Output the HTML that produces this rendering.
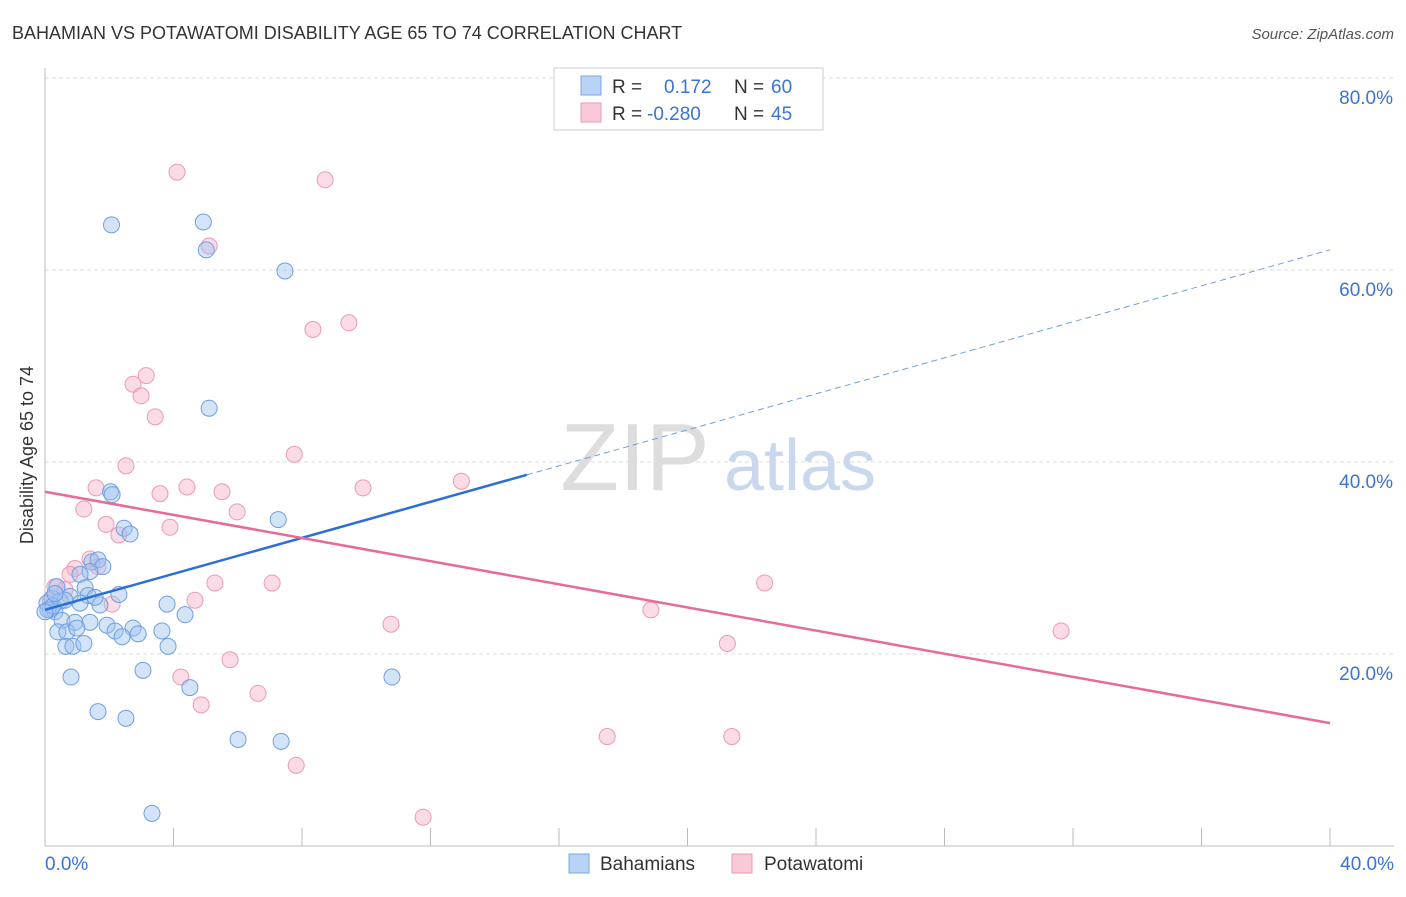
<!DOCTYPE html>
<html><head><meta charset="utf-8"><style>
body{margin:0;background:#fff;font-family:"Liberation Sans",sans-serif}
text{font-family:"Liberation Sans",sans-serif}
</style></head><body>
<svg id="chart" width="1406" height="892" xmlns="http://www.w3.org/2000/svg">
<text x="12" y="39" font-size="18" fill="#333">BAHAMIAN VS POTAWATOMI DISABILITY AGE 65 TO 74 CORRELATION CHART</text>
<text x="1394" y="39" font-size="15" fill="#555" font-style="italic" text-anchor="end">Source: ZipAtlas.com</text>
<text x="635" y="490" font-size="96" fill="#ddd" font-family="Liberation Serif" text-anchor="middle">ZIP</text>
<text x="800" y="490" font-size="72" fill="#c9d8ef" text-anchor="middle">atlas</text>
<text transform="translate(33,455) rotate(-90)" font-size="18" fill="#333" text-anchor="middle">Disability Age 65 to 74</text>
<g id="grid"></g><g id="pts"></g><g id="lines"></g>
<g>
<rect x="554" y="68" width="269" height="62" fill="#fff" stroke="#ccc"/>
<rect x="581" y="76" width="20" height="19" fill="#b9d3f5" stroke="#7aa6e3"/>
<rect x="581" y="103" width="20" height="19" fill="#f9c9d8" stroke="#ee99b4"/>
<text x="612" y="93" font-size="19" fill="#333">R = </text><text x="664" y="93" font-size="19" fill="#3a74d6">0.172</text>
<text x="734" y="93" font-size="19" fill="#333">N = </text><text x="771" y="93" font-size="19" fill="#3a74d6">60</text>
<text x="612" y="120" font-size="19" fill="#333">R = </text><text x="647" y="120" font-size="19" fill="#3a74d6">-0.280</text>
<text x="734" y="120" font-size="19" fill="#333">N = </text><text x="771" y="120" font-size="19" fill="#3a74d6">45</text>
</g>
<g>
<rect x="569" y="854" width="20" height="19" fill="#b9d3f5" stroke="#7aa6e3"/>
<text x="600" y="870" font-size="19" fill="#333">Bahamians</text>
<rect x="732" y="854" width="20" height="19" fill="#f9c9d8" stroke="#ee99b4"/>
<text x="764" y="870" font-size="19" fill="#333">Potawatomi</text>
</g>
<text x="45" y="870" font-size="19" fill="#3a74d6">0.0%</text>
<text x="1394" y="870" font-size="19" fill="#3a74d6" text-anchor="end">40.0%</text>
</svg>
<script>
const yTicks=[20,40,60,80];
const xTicks=[0,4,8,12,16,20,24,28,32,36,40];
const blueX=[2.07,4.93,5.02,7.47,5.11,2.04,2.09,2.46,2.65,7.26,1.46,1.65,1.80,1.40,1.09,0.37,1.25,2.30,1.34,0.78,0.22,0.06,0.47,1.09,1.71,3.80,4.36,0.16,0.31,0.53,0.93,1.40,1.93,2.74,3.64,0.40,0.68,2.18,2.40,2.90,0.65,0.87,1.21,3.83,0.81,3.05,4.51,1.65,2.52,6.01,7.35,10.80,3.33,0.09,0.25,0,0.62,0.99,1.56,0.31];
const blueY=[64.7,65.0,62.1,59.9,45.6,36.9,36.6,33.1,32.5,34.0,29.6,29.8,29.1,28.6,28.3,27.0,26.9,26.2,26.1,26.0,25.8,25.3,25.5,25.3,25.1,25.2,24.1,24.6,24.4,23.5,23.3,23.3,23.0,22.7,22.4,22.3,22.3,22.4,21.8,22.1,20.8,20.8,21.1,20.8,17.6,18.3,16.5,14.0,13.3,11.1,10.9,17.6,3.4,24.6,25.0,24.4,25.6,22.7,25.9,26.3];
const pinkX=[4.11,8.72,5.11,8.34,9.46,3.15,2.74,2.99,3.43,2.52,7.76,1.59,4.42,3.58,5.51,9.90,12.96,1.21,5.98,1.90,2.30,3.89,1.40,0.93,0.78,1.65,0.31,0.62,0.16,5.29,7.07,4.67,2.09,22.40,18.86,10.77,31.63,21.24,5.76,4.23,6.63,4.86,17.50,21.38,7.82,11.77];
const pinkY=[70.2,69.4,62.5,53.8,54.5,49.0,48.1,46.9,44.7,39.6,40.8,37.3,37.4,36.7,36.9,37.3,38.0,35.1,34.8,33.5,32.4,33.2,29.9,28.9,28.3,29.1,27.0,26.7,25.6,27.4,27.4,25.6,25.2,27.4,24.6,23.1,22.4,21.1,19.4,17.6,15.9,14.7,11.4,11.4,8.4,3.0];
const blueLine=[24.6,62.1], pinkLine=[36.9,12.8];
const NS="http://www.w3.org/2000/svg";
const X=v=>45+v*32.125, Y=v=>846-v*9.6;
function mk(t,a,p){const e=document.createElementNS(NS,t);for(const k in a)e.setAttribute(k,a[k]);p.appendChild(e);return e;}
const grid=document.getElementById('grid');
for(const t of yTicks){
 const l=mk('line',{x1:45,x2:1394,y1:Y(t),y2:Y(t),stroke:'#ddd','stroke-dasharray':'4,3'},grid);
 
 
 const tx=mk('text',{x:1393,y:Y(t)+26,'font-size':19,fill:'#3a74d6','text-anchor':'end'},grid);
 tx.textContent=t.toFixed(1)+'%';
 
 
}
const ax=mk('line',{x1:45,x2:45,y1:68,y2:846,stroke:'#bbb'},grid);


const bx=mk('line',{x1:45,x2:1394,y1:846,y2:846,stroke:'#bbb'},grid);


for(const t of xTicks){
 const l=mk('line',{x1:X(t),x2:X(t),y1:828,y2:846,stroke:'#bbb'},grid);
 
 
}
const pts=document.getElementById('pts');
for(let i=0;i<pinkX.length;i++){
 const c=mk('circle',{cx:X(pinkX[i]),cy:Y(pinkY[i]),r:8,fill:'rgba(246,176,200,0.45)',stroke:'#eb9ab5','stroke-width':1},pts);
 
 
}
for(let i=0;i<blueX.length;i++){
 const c=mk('circle',{cx:X(blueX[i]),cy:Y(blueY[i]),r:8,fill:'rgba(160,195,240,0.45)',stroke:'#6e9fe0','stroke-width':1},pts);
 
 
}
const lines=document.getElementById('lines');
const by=x=>blueLine[0]+(blueLine[1]-blueLine[0])*x/40;
const b1=mk('line',{x1:X(0),y1:Y(by(0)),x2:X(15),y2:Y(by(15)),stroke:'#2a6fd6','stroke-width':2.5},lines);


const b2=mk('line',{x1:X(15),y1:Y(by(15)),x2:X(40),y2:Y(by(40)),stroke:'#6e9fe0','stroke-width':1,'stroke-dasharray':'6,4'},lines);


const p1=mk('line',{x1:X(0),y1:Y(pinkLine[0]),x2:X(40),y2:Y(pinkLine[1]),stroke:'#e8699a','stroke-width':2.5},lines);


</script>
</body></html>
